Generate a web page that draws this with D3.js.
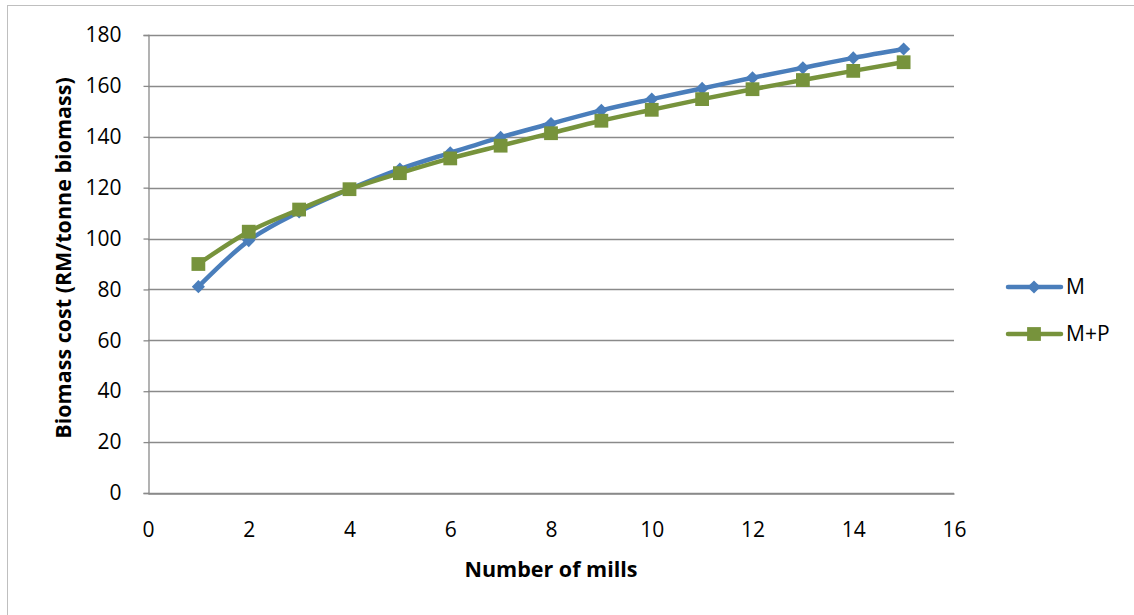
<!DOCTYPE html>
<html><head><meta charset="utf-8">
<script src="https://cdn.jsdelivr.net/npm/d3@7"></script>
<style>body{margin:0;background:#fff}svg{display:block}text{font-family:"Open Sans",sans-serif}</style>
</head><body><svg id="c" width="1134" height="615"></svg>
<script>
const mills = [1,2,3,4,5,6,7,8,9,10,11,12,13,14,15];
const seriesM = [81.1,99.2,110.5,119.4,127.3,133.7,139.8,145.2,150.4,154.8,159.0,163.2,167.1,171.0,174.5];
const seriesMP = [90.0,102.7,111.4,119.4,125.7,131.5,136.5,141.4,146.3,150.6,154.8,158.7,162.3,165.9,169.3];
const seriesNames = ["M","M+P"];
const yTicks = [0,20,40,60,80,100,120,140,160,180];
const xTicks = [0,2,4,6,8,10,12,14,16];
const colors = ["#4a7ebb","#77933c"];

const svg = d3.select("#c");
svg.append("rect").attr("x",7.5).attr("y",5.5).attr("width",1140).attr("height",620)
  .attr("fill","none").attr("stroke","#bfbfbf");

const x = d3.scaleLinear().domain([0,16]).range([148,954]);
const y = d3.scaleLinear().domain([0,180]).range([493,35]);

// gridlines
svg.append("g").selectAll("line").data(yTicks).join("line")
  .attr("x1",x(0)).attr("x2",x(16)).attr("y1",d=>Math.round(y(d))+0.5).attr("y2",d=>Math.round(y(d))+0.5)
  .attr("stroke","#8a8a8a").attr("stroke-width",1.3);

// y axis
const ya = svg.append("g").attr("transform",`translate(${x(0)+0.5},0)`)
  .call(d3.axisLeft(y).tickValues(yTicks).tickSize(5).tickPadding(22).tickFormat(d3.format("d")));
ya.select(".domain").attr("stroke","#8a8a8a").attr("stroke-width",1.3);
ya.selectAll(".tick line").attr("stroke","#8a8a8a").attr("stroke-width",1.3);
ya.selectAll("text").attr("font-size",21).attr("fill","#000").attr("font-family","Open Sans, sans-serif");

// x axis
const xa = svg.append("g").attr("transform",`translate(0,${Math.round(y(0))+0.5})`)
  .call(d3.axisBottom(x).tickValues(xTicks).tickSize(0).tickPadding(29).tickFormat(d3.format("d")));
xa.select(".domain").attr("stroke","#8a8a8a").attr("stroke-width",1.3);
xa.selectAll("text").attr("font-size",21).attr("fill","#000").attr("font-family","Open Sans, sans-serif");

// titles
svg.append("text").attr("x",551).attr("y",577).attr("text-anchor","middle")
  .attr("font-size",21.5).attr("font-weight","bold").text("Number of mills");
svg.append("text").attr("transform","translate(71,258) rotate(-90)").attr("text-anchor","middle")
  .attr("font-size",21.5).attr("font-weight","bold").text("Biomass cost (RM/tonne biomass)");

const data = [seriesM, seriesMP];
const line = d3.line().x((d,i)=>x(mills[i])).y(d=>y(d)).curve(d3.curveMonotoneX);
const diamond = d3.symbol().type(d3.symbolDiamond2).size(110);
const square = d3.symbol().type(d3.symbolSquare).size(190);
const syms = [diamond, square];

data.forEach((s,k)=>{
  svg.append("path").datum(s).attr("d",line).attr("fill","none")
    .attr("stroke",colors[k]).attr("stroke-width",4.5).attr("stroke-linejoin","round");
  svg.append("g").selectAll("path").data(s).join("path")
    .attr("transform",(d,i)=>`translate(${x(mills[i])},${y(d)})`)
    .attr("d",syms[k]()).attr("fill",colors[k]);
});

// legend
const leg = [287,334];
seriesNames.forEach((n,k)=>{
  svg.append("line").attr("x1",1008).attr("x2",1061).attr("y1",leg[k]).attr("y2",leg[k])
    .attr("stroke",colors[k]).attr("stroke-width",4.5).attr("stroke-linecap","round");
  svg.append("path").attr("transform",`translate(1034,${leg[k]})`).attr("d",syms[k]()).attr("fill",colors[k]);
  svg.append("text").attr("x",1066).attr("y",leg[k]+7).attr("font-size",21).text(n);
});
</script></body></html>
